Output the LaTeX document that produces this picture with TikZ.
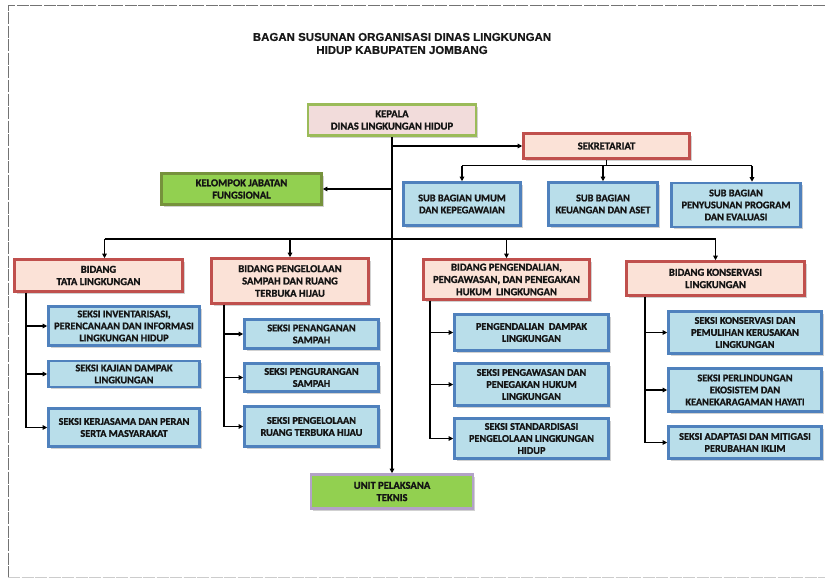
\documentclass[tikz,border=0pt]{standalone}
\usepackage{fontspec}
\setmainfont{Carlito}
\newfontfamily\boxfont{Carlito}[BoldFeatures={FakeBold=1.2}]
\newfontfamily\titlefont{Liberation Sans}[BoldFeatures={FakeBold=0.6}]
\usetikzlibrary{arrows.meta,shadows,calc}
\definecolor{redbd}{RGB}{192,80,77}
\definecolor{redfill}{RGB}{251,226,215}
\definecolor{bluebd}{RGB}{79,129,189}
\definecolor{bluefill}{RGB}{185,222,234}
\definecolor{pinkfill}{RGB}{242,220,219}
\definecolor{greenbd}{RGB}{155,187,89}
\definecolor{kjfbd}{RGB}{118,146,60}
\definecolor{limefill}{RGB}{146,208,80}
\definecolor{lavbd}{RGB}{179,162,199}
\definecolor{txt}{RGB}{20,20,20}
\begin{document}
\begin{tikzpicture}[x=1pt,y=-1pt,
  box/.style={draw, line width=2.6pt, inner sep=1pt, align=center,
    font=\boxfont\bfseries\fontsize{10.6}{12.3}\selectfont, text=txt,
    drop shadow={shadow xshift=2pt, shadow yshift=-2.2pt, fill=black, opacity=0.18}},
  redbox/.style={box, draw=redbd, fill=redfill},
  bluebox/.style={box, draw=bluebd, fill=bluefill, font=\boxfont\bfseries\fontsize{10.3}{12}\selectfont},
  headbox/.style={box, draw=greenbd, fill=pinkfill},
  kjfbox/.style={box, draw=kjfbd, fill=limefill},
  uptbox/.style={box, draw=lavbd, fill=limefill},
  ln/.style={line width=1.1pt, black},
  arr/.style={line width=1.1pt, black, -{Triangle[length=4.5pt,width=4.5pt]}},
  framest/.style={black!55, line width=1pt, dash pattern=on 12pt off 1.5pt}
]
\useasboundingbox (0,0) rectangle (825,578);
\fill[white] (0,0) rectangle (825,578);
% page frame
\draw[framest] (825,6) -- (8,6) -- (8,578);
\draw[black!20, line width=0.8pt, dash pattern=on 12pt off 1.5pt] (8,577) -- (825,577);

% title
\node[font=\titlefont\bfseries\fontsize{11.5}{13}\selectfont, align=center, text=black!90] (title) at (402,43.5)
  {BAGAN SUSUNAN ORGANISASI DINAS LINGKUNGAN\\HIDUP KABUPATEN JOMBANG};

% head
\node[headbox, minimum width=168pt, minimum height=31pt] (kepala) at (392,120) {KEPALA\\DINAS LINGKUNGAN HIDUP};
\node[redbox, minimum width=166pt, minimum height=25pt] (sek) at (606.5,146) {SEKRETARIAT};
\node[kjfbox, minimum width=160pt, minimum height=31pt] (kjf) at (241.5,189) {KELOMPOK JABATAN\\FUNGSIONAL};

% sub bagian
\node[bluebox, minimum width=117pt, minimum height=43pt] (sub1) at (462,204) {SUB BAGIAN UMUM\\DAN KEPEGAWAIAN};
\node[bluebox, minimum width=109pt, minimum height=43pt] (sub2) at (603,204) {SUB BAGIAN\\KEUANGAN DAN ASET};
\node[bluebox, minimum width=129pt, minimum height=44pt] (sub3) at (736,205) {SUB BAGIAN\\PENYUSUNAN PROGRAM\\DAN EVALUASI};

% bidang
\node[redbox, minimum width=168pt, minimum height=32pt] (bt) at (98.5,275.5) {BIDANG\\TATA LINGKUNGAN};
\node[redbox, minimum width=157pt, minimum height=45pt] (bp) at (290,281) {BIDANG PENGELOLAAN\\SAMPAH DAN RUANG\\TERBUKA HIJAU};
\node[redbox, minimum width=166pt, minimum height=40pt] (bpg) at (506.5,279.5) {BIDANG PENGENDALIAN,\\PENGAWASAN, DAN PENEGAKAN\\HUKUM\ \ LINGKUNGAN};
\node[redbox, minimum width=178pt, minimum height=34pt] (bk) at (715.5,278.5) {BIDANG KONSERVASI\\LINGKUNGAN};

% seksi column 1
\node[bluebox, minimum width=151pt, minimum height=39pt] (s11) at (124,326) {SEKSI INVENTARISASI,\\PERENCANAAN DAN INFORMASI\\LINGKUNGAN HIDUP};
\node[bluebox, minimum width=151pt, minimum height=26pt] (s12) at (124,374) {SEKSI KAJIAN DAMPAK\\LINGKUNGAN};
\node[bluebox, minimum width=151pt, minimum height=38pt] (s13) at (124,427.5) {SEKSI KERJASAMA DAN PERAN\\SERTA MASYARAKAT};
% seksi column 2
\node[bluebox, minimum width=134pt, minimum height=29pt] (s21) at (311.5,334) {SEKSI PENANGANAN\\SAMPAH};
\node[bluebox, minimum width=134pt, minimum height=28pt] (s22) at (311.5,377.5) {SEKSI PENGURANGAN\\SAMPAH};
\node[bluebox, minimum width=134pt, minimum height=40pt] (s23) at (311.5,426.5) {SEKSI PENGELOLAAN\\RUANG TERBUKA HIJAU};
% seksi column 3
\node[bluebox, minimum width=154pt, minimum height=36pt] (s31) at (531.5,332.5) {PENGENDALIAN\ \ DAMPAK\\LINGKUNGAN};
\node[bluebox, minimum width=154pt, minimum height=42pt] (s32) at (531.5,384.5) {SEKSI PENGAWASAN DAN\\PENEGAKAN HUKUM\\LINGKUNGAN};
\node[bluebox, minimum width=154pt, minimum height=40pt] (s33) at (531.5,438.5) {SEKSI STANDARDISASI\\PENGELOLAAN LINGKUNGAN\\HIDUP};
% seksi column 4
\node[bluebox, minimum width=153pt, minimum height=42pt] (s41) at (745,332.5) {SEKSI KONSERVASI DAN\\PEMULIHAN KERUSAKAN\\LINGKUNGAN};
\node[bluebox, minimum width=153pt, minimum height=43pt] (s42) at (745,390) {SEKSI PERLINDUNGAN\\EKOSISTEM DAN\\KEANEKARAGAMAN HAYATI};
\node[bluebox, minimum width=153pt, minimum height=32pt] (s43) at (745,442.5) {SEKSI ADAPTASI DAN MITIGASI\\PERUBAHAN IKLIM};

% UPT
\node[uptbox, minimum width=162pt, minimum height=34pt] (upt) at (392,491.5) {UNIT PELAKSANA\\TEKNIS};

% ---- connectors ----
\draw[arr] (kepala.south) -- (kepala.south |- upt.north);
\draw[arr] (kepala.south |- sek.west) -- (sek.west);
\draw[arr] (kepala.south |- kjf.east) -- (kjf.east);

% sekretariat children
\coordinate (sj) at ($(sek.south)+(0,6)$);
\coordinate (sub3a) at ($(sub3.north)+(16,0)$);
\draw[ln] (sek.south) -- (sj);
\draw[ln] (sub1.north |- sj) -- (sub3a |- sj);
\draw[arr] (sub1.north |- sj) -- (sub1.north);
\draw[arr] (sub2.north |- sj) -- (sub2.north);
\draw[arr] (sub3a |- sj) -- (sub3a);

% bidang line
\coordinate (by) at (0,239);
\coordinate (bta) at ($(bt.north)+(6,0)$);
\draw[ln] (bta |- by) -- (bk.north |- by);
\draw[arr] (bta |- by) -- (bta);
\draw[arr] (bp.north |- by) -- (bp.north);
\draw[arr] (bpg.north |- by) -- (bpg.north);
\draw[arr] (bk.north |- by) -- (bk.north);

% columns
\coordinate (c1) at (26,0);
\coordinate (c2) at (224,0);
\coordinate (c3) at (430,0);
\coordinate (c4) at (645,0);
\foreach \s in {s11,s12,s13} \draw[arr] (bt.south -| c1) |- (\s.west);
\foreach \s in {s21,s22,s23} \draw[arr] (bp.south -| c2) |- (\s.west);
\foreach \s in {s31,s32,s33} \draw[arr] (bpg.south -| c3) |- (\s.west);
\foreach \s in {s41,s42,s43} \draw[arr] (bk.south -| c4) |- (\s.west);
\end{tikzpicture}
\end{document}
